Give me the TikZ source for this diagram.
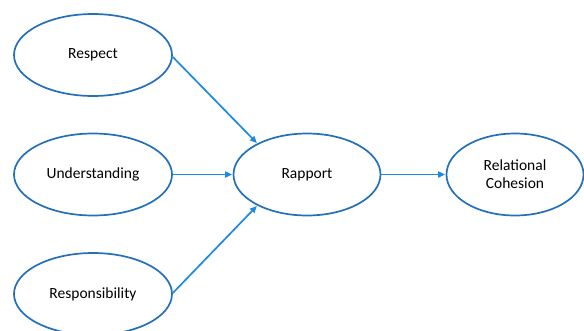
\documentclass[tikz,border=0pt]{standalone}
\usepackage{fontspec}
\setmainfont{Carlito}
\usetikzlibrary{shapes.geometric,arrows.meta}
\definecolor{ovalblue}{HTML}{2370B8}
\definecolor{linkblue}{HTML}{1B8BDF}
\tikzset{
  oval/.style={ellipse, draw=ovalblue, line width=1.7pt, minimum width=158pt, minimum height=82pt, inner sep=0pt, align=center, font=\fontsize{15.5}{18}\selectfont},
  link/.style={draw=linkblue, line width=1.7pt, -{Triangle[length=7pt,width=6pt]}, shorten >=0.5pt}
}
\begin{document}
\begin{tikzpicture}[x=1pt,y=-1pt]
\useasboundingbox (0,0) rectangle (584,330);
\node[oval] (respect) at (93,55) {Respect};
\node[oval] (underst) at (93,174.5) {Understanding};
\node[oval] (respons) at (93,294) {Responsibility};
\node[oval, minimum width=147pt] (rapport) at (307,174.5) {Rapport};
\node[oval, minimum width=137pt] (cohesion) at (515,174.5) {Relational\\Cohesion};
\draw[link] (respect.east) ++(0,2) -- (rapport.148);
\draw[link] (underst.east) -- (rapport.west);
\draw[link] (respons.east) ++(0,-1) -- (rapport.-148);
\draw[link] (rapport.east) -- (cohesion.west);
\end{tikzpicture}
\end{document}
